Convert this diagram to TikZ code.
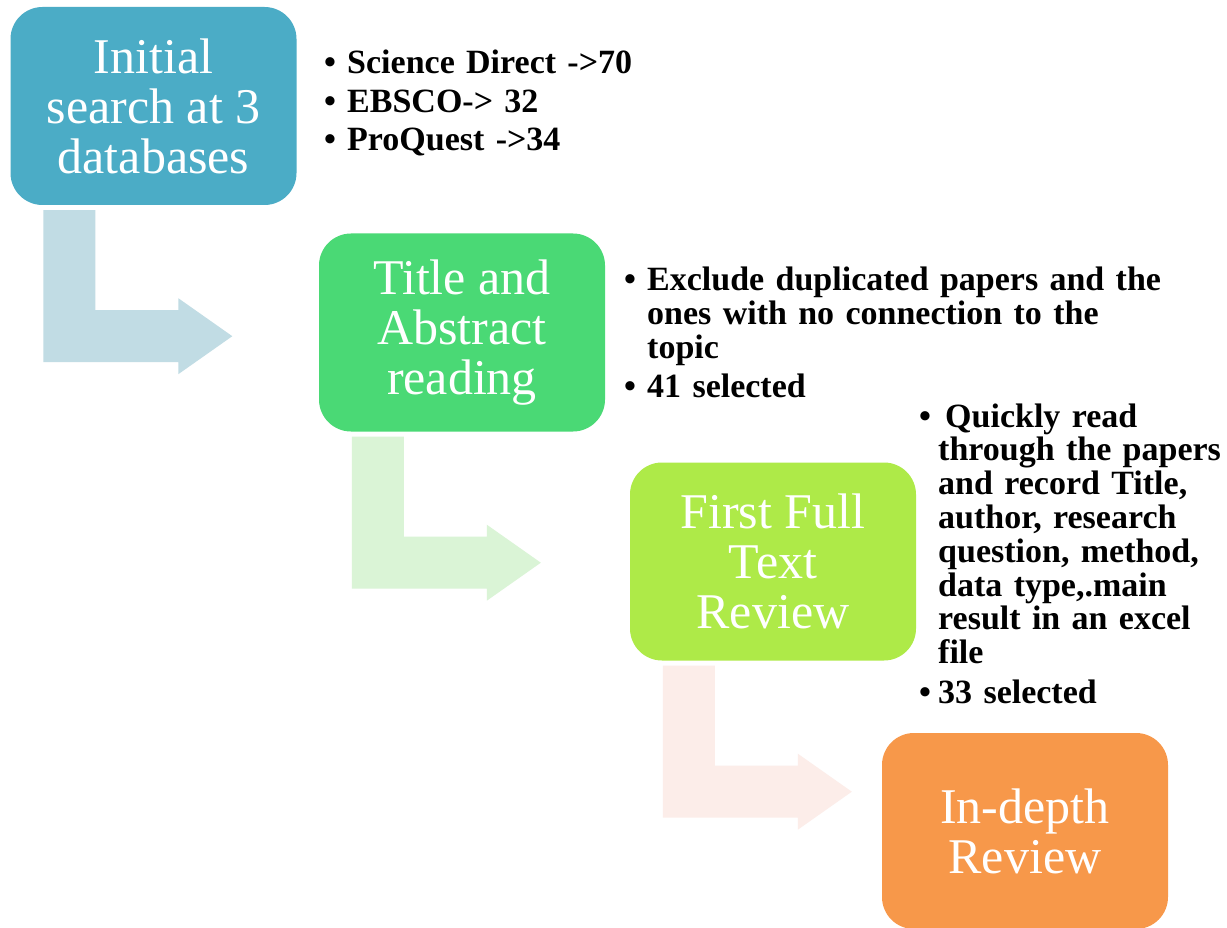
\documentclass[tikz,border=0pt]{standalone}
\usepackage{fontspec}
\setmainfont{Liberation Serif}
\usetikzlibrary{calc}

\definecolor{stageA}{HTML}{4BACC6}
\definecolor{stageB}{HTML}{4AD975}
\definecolor{stageC}{HTML}{AEEA48}
\definecolor{stageD}{HTML}{F7984A}
\definecolor{flowA}{HTML}{C1DCE4}
\definecolor{flowB}{HTML}{DAF4D6}
\definecolor{flowC}{HTML}{FCEDE9}

% bent arrow hanging below a stage box, drawn from its lower left corner
\newcommand{\bentarrow}[2]{%
  \fill[#2] ($(#1.south west)+(33,5)$) -- ++(52,0) -- ++(0,100) -- ++(83,0)
    -- ++(0,-12) -- ++(54,38) -- ++(-54,38) -- ++(0,-12) -- ++(-135,0) -- cycle;}

\begin{document}
\begin{tikzpicture}[x=1pt,y=-1pt,
  stage/.style={rounded corners=32pt, inner sep=0pt, minimum width=286pt,
    minimum height=198pt, text=white, align=center,
    font=\fontsize{50}{50}\selectfont},
  note/.style={anchor=base west, inner sep=0pt, text width=600pt, align=left,
    font=\fontsize{34}{33.8}\selectfont\bfseries},
  dot/.style={anchor=base west, inner sep=0pt,
    font=\fontsize{34}{34}\selectfont\bfseries}]
\fill[white] (0,0) rectangle (1227,928);
\useasboundingbox (0,0) rectangle (1227,928);

% stage boxes
\node[stage, fill=stageA] (s1) at (153.5,106) {Initial\\search at 3\\databases};
\node[stage, fill=stageB] (s2) at (462,332.5) {Title and\\Abstract\\reading};
\node[stage, fill=stageC] (s3) at (773,561.5) {First Full\\Text\\Review};
\node[stage, fill=stageD, minimum height=196pt] (s4) at (1025,831) {In-depth\\Review};

% bent arrows from one stage to the next
\bentarrow{s1}{flowA}
\bentarrow{s2}{flowB}
\bentarrow{s3}{flowC}

% notes beside the first stage
\node[dot] (d11) at (324,74) {\textbullet};
\node[note] (n11) at (347,74) {Science Direct ->70};
\node[dot] (d12) at (324,112.5) {\textbullet};
\node[note] (n12) at (347,112.5) {EBSCO-> 32};
\node[dot] (d13) at (324,151) {\textbullet};
\node[note] (n13) at (347,151) {ProQuest ->34};

% notes beside the second stage
\node[dot] (d21) at (624,290.5) {\textbullet};
\node[note] (n21) at (647,290.5) {Exclude duplicated papers and the\\ones with no connection to the\\topic};
\node[dot] (d22) at (624,397) {\textbullet};
\node[note] (n22) at (647,397) {41 selected};

% notes beside the third stage
\node[dot] (d31) at (919,427) {\textbullet};
\node[note] (n31) at (938,427) {\hspace*{7pt}Quickly read\\through the papers\\and record Title,\\author, research\\question, method,\\data type,.main\\result in an excel\\file};
\node[dot] (d32) at (919,703) {\textbullet};
\node[note] (n32) at (938,703) {33 selected};
\end{tikzpicture}
\end{document}
